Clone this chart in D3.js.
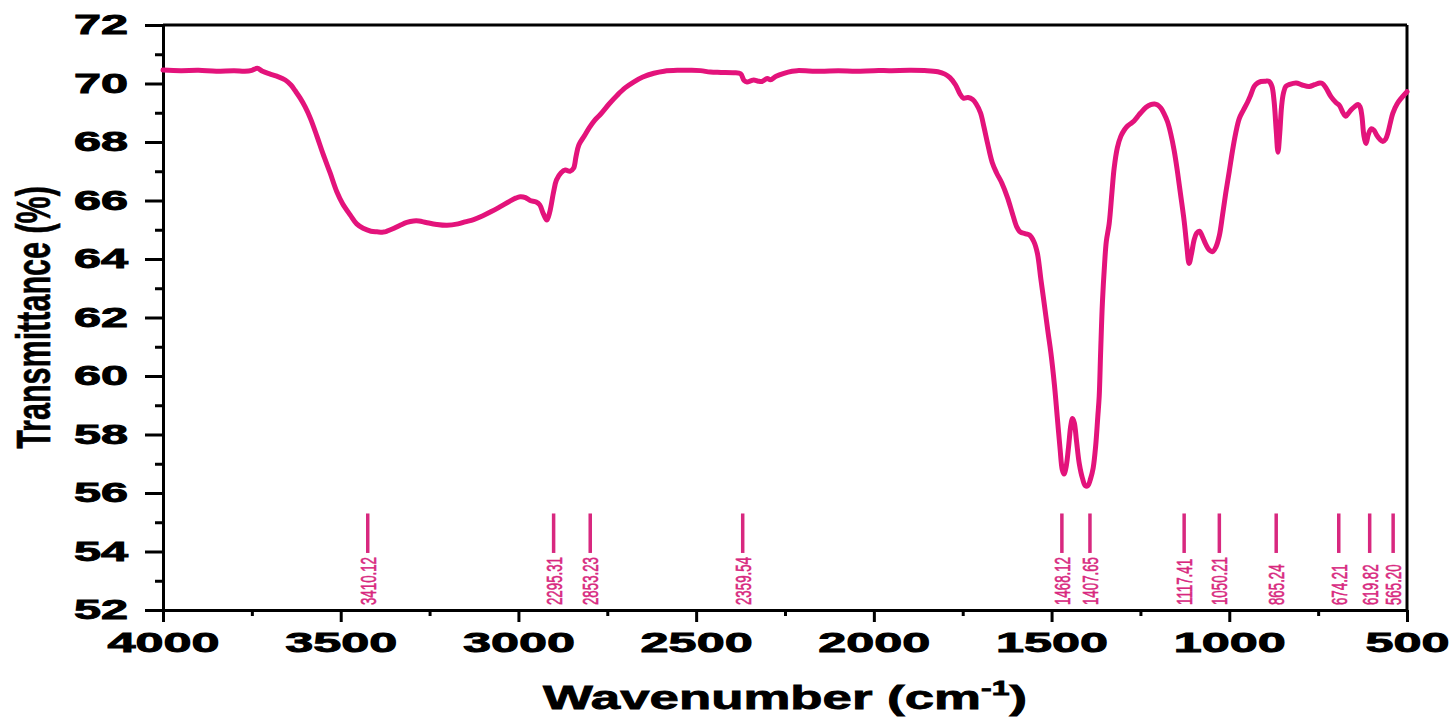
<!DOCTYPE html>
<html>
<head>
<meta charset="utf-8">
<script src="https://cdn.jsdelivr.net/npm/d3@7"></script>
<style>
  html, body { margin: 0; padding: 0; background: #ffffff; }
  svg { display: block; }
  text { font-family: "Liberation Sans", Arial, sans-serif; }
</style>
</head>
<body>
<svg id="chart" width="1453" height="717"></svg>
<script>
// ---------------- data ----------------
const wavenumber = [
  4000, 3950, 3900, 3850, 3800, 3770, 3750, 3735, 3720, 3700, 3680, 3656, 3640, 3628, 3614, 3600,
  3585, 3567, 3550, 3530, 3511, 3495, 3473, 3455, 3437, 3415, 3398, 3380, 3370, 3350, 3330, 3314,
  3295, 3280, 3260, 3230, 3201, 3170, 3150, 3126, 3100, 3075, 3051, 3025, 3008, 2995, 2980, 2967,
  2950, 2940, 2930, 2920, 2912, 2901, 2893, 2880, 2868, 2855, 2845, 2838, 2830, 2815, 2800, 2785,
  2769, 2745, 2722, 2700, 2676, 2650, 2619, 2590, 2553, 2520, 2488, 2460, 2430, 2394, 2375, 2365,
  2357, 2345, 2338, 2325, 2315, 2300, 2291, 2275, 2253, 2230, 2216, 2150, 2100, 2050, 2000, 1950,
  1900, 1850, 1820, 1800, 1786, 1770, 1758, 1748, 1735, 1722, 1712, 1700, 1690, 1680, 1667, 1655,
  1640, 1624, 1610, 1598, 1588, 1575, 1562, 1550, 1540, 1530, 1521, 1510, 1502, 1492, 1484, 1476,
  1470, 1465, 1459, 1452, 1446, 1441, 1436, 1430, 1422, 1413, 1405, 1398, 1390, 1383, 1376, 1370,
  1366, 1362, 1357, 1351, 1346, 1338, 1330, 1324, 1315, 1305, 1295, 1286, 1275, 1268, 1258, 1249,
  1235, 1221, 1210, 1202, 1192, 1183, 1174, 1165, 1155, 1146, 1137, 1127, 1120, 1113, 1106, 1099,
  1092, 1084, 1075, 1066, 1056, 1047, 1038, 1028, 1019, 1010, 1000, 991, 982, 972, 960, 949,
  940, 930, 920, 911, 898, 888, 880, 874, 868, 863, 858, 853, 848, 841, 830, 812,
  795, 775, 760, 745, 738, 728, 714, 700, 690, 680, 672, 665, 657, 648, 638, 632,
  627, 621, 615, 609, 601, 593, 586, 577, 568, 560, 554, 547, 540, 528, 516, 500
];
const transmittance = [
  70.46, 70.44, 70.45, 70.42, 70.44, 70.42, 70.45, 70.52, 70.42, 70.33, 70.25, 70.12, 69.95, 69.75, 69.50, 69.20,
  68.80, 68.20, 67.60, 66.95, 66.30, 65.90, 65.50, 65.20, 65.05, 64.95, 64.93, 64.92, 64.95, 65.05, 65.17, 65.25,
  65.30, 65.30, 65.25, 65.18, 65.15, 65.20, 65.27, 65.35, 65.48, 65.63, 65.79, 65.97, 66.08, 66.13, 66.10, 66.00,
  65.95, 65.85, 65.55, 65.33, 65.60, 66.30, 66.70, 66.95, 67.04, 67.00, 67.10, 67.50, 67.90, 68.20, 68.50, 68.75,
  68.95, 69.30, 69.60, 69.85, 70.05, 70.22, 70.35, 70.42, 70.45, 70.45, 70.44, 70.39, 70.38, 70.37, 70.33, 70.10,
  70.05, 70.10, 70.12, 70.08, 70.07, 70.17, 70.13, 70.25, 70.35, 70.42, 70.44, 70.42, 70.44, 70.42, 70.44, 70.44,
  70.45, 70.44, 70.40, 70.32, 70.20, 69.95, 69.65, 69.50, 69.52, 69.45, 69.30, 69.00, 68.50, 67.95, 67.30, 66.95,
  66.60, 66.10, 65.55, 65.10, 64.92, 64.87, 64.82, 64.60, 64.20, 63.30, 62.50, 61.50, 60.80, 59.70, 58.60, 57.50,
  56.80, 56.65, 56.90, 57.60, 58.30, 58.55, 58.40, 57.80, 57.00, 56.50, 56.25, 56.25, 56.50, 56.85, 57.60, 58.60,
  59.30, 60.80, 62.50, 63.80, 64.60, 65.20, 66.30, 67.10, 67.80, 68.20, 68.42, 68.55, 68.65, 68.72, 68.87, 69.00,
  69.18, 69.28, 69.30, 69.27, 69.15, 68.95, 68.70, 68.30, 67.70, 67.00, 66.20, 65.30, 64.50, 63.85, 64.20, 64.65,
  64.88, 64.95, 64.75, 64.50, 64.30, 64.25, 64.40, 64.80, 65.50, 66.25, 67.00, 67.70, 68.30, 68.80, 69.10, 69.35,
  69.60, 69.90, 70.02, 70.07, 70.08, 70.07, 69.90, 69.40, 68.40, 67.65, 68.30, 69.20, 69.65, 69.90, 69.97, 70.02,
  69.95, 69.90, 69.96, 70.02, 70.00, 69.85, 69.55, 69.35, 69.25, 69.00, 68.88, 68.98, 69.10, 69.20, 69.28, 69.20,
  68.90, 68.20, 67.95, 68.25, 68.45, 68.40, 68.25, 68.10, 68.02, 68.10, 68.30, 68.65, 68.98, 69.30, 69.50, 69.72
];

// peak marker positions (as drawn) and their printed labels
const markerPositions = [3424, 2901, 2798, 2369, 1471, 1392, 1127, 1028, 868, 692, 605, 539];
const markerLabels = ["3410.12", "2295.31", "2853.23", "2359.54", "1468.12", "1407.65",
                      "1117.41", "1050.21", "865.24", "674.21", "619.82", "565.20"];
const markerTop = 55.3, markerBottom = 53.95, markerLabelBase = 52.17;

// axis ticks
const xTicks = [4000, 3500, 3000, 2500, 2000, 1500, 1000, 500];
const xMinorTicks = [3750, 3250, 2750, 2250, 1750, 1250, 750];
const yTicks = [52, 54, 56, 58, 60, 62, 64, 66, 68, 70, 72];
const yMinorTicks = [53, 55, 57, 59, 61, 63, 65, 67, 69, 71];

const xTitle = "Wavenumber (cm";
const xTitleSup = "-1";
const yTitle = "Transmittance (%)";

// ---------------- layout ----------------
const plotLeft = 163, plotRight = 1407, plotTop = 25, plotBottom = 610;
const lineColor = "#e3137b";
const markColor = "#d8287f";
const sxTick = 1.8, sxTitle = 1.6;

const svg = d3.select("#chart");
const x = d3.scaleLinear().domain([4000, 500]).range([plotLeft, plotRight]);
const y = d3.scaleLinear().domain([52, 72]).range([plotBottom, plotTop]);

// frame (top & right)
svg.append("line").attr("x1", plotLeft).attr("x2", plotRight).attr("y1", plotTop).attr("y2", plotTop)
  .attr("stroke", "#000").attr("stroke-width", 3);
svg.append("line").attr("x1", plotRight).attr("x2", plotRight).attr("y1", plotTop).attr("y2", plotBottom)
  .attr("stroke", "#000").attr("stroke-width", 3);

// minor ticks
svg.append("g").attr("transform", `translate(0,${plotBottom})`)
  .call(d3.axisBottom(x).tickValues(xMinorTicks).tickSize(6).tickSizeOuter(0).tickFormat(""))
  .call(g => g.select(".domain").remove())
  .call(g => g.selectAll("line").attr("stroke-width", 3));
svg.append("g").attr("transform", `translate(${plotLeft},0)`)
  .call(d3.axisLeft(y).tickValues(yMinorTicks).tickSize(8).tickSizeOuter(0).tickFormat(""))
  .call(g => g.select(".domain").remove())
  .call(g => g.selectAll("line").attr("stroke-width", 3));

// major x axis
const gx = svg.append("g").attr("transform", `translate(0,${plotBottom})`)
  .call(d3.axisBottom(x).tickValues(xTicks).tickSize(12).tickSizeOuter(0).tickPadding(10).tickFormat(d3.format("d")));
gx.select(".domain").attr("stroke-width", 3);
gx.selectAll("line").attr("stroke-width", 3);
gx.selectAll("text")
  .attr("font-size", 28).attr("font-weight", "bold").attr("fill", "#000")
  .attr("stroke", "#000").attr("stroke-width", 0.9)
  .attr("transform", `scale(${sxTick},1)`);

// major y axis
const gy = svg.append("g").attr("transform", `translate(${plotLeft},0)`)
  .call(d3.axisLeft(y).tickValues(yTicks).tickSize(18).tickSizeOuter(0).tickPadding(17).tickFormat(d3.format("d")));
gy.select(".domain").attr("stroke-width", 3);
gy.selectAll("line").attr("stroke-width", 3);
gy.selectAll("text")
  .attr("font-size", 27).attr("font-weight", "bold").attr("fill", "#000")
  .attr("stroke", "#000").attr("stroke-width", 0.9)
  .attr("x", 0)
  .attr("transform", `translate(-35,0) scale(${sxTick},1)`);

// axis titles
const xt = svg.append("text")
  .attr("transform", `translate(${(plotLeft + plotRight) / 2},709) scale(${sxTitle},1)`)
  .attr("text-anchor", "middle").attr("font-size", 33).attr("font-weight", "bold")
  .attr("fill", "#000").attr("stroke", "#000").attr("stroke-width", 0.8);
xt.append("tspan").text(xTitle);
xt.append("tspan").attr("font-size", 20).attr("dy", -14).text(xTitleSup);
xt.append("tspan").attr("dy", 14).text(")");

svg.append("text")
  .attr("transform", `translate(50,${(plotTop + plotBottom) / 2}) scale(${sxTitle},1) rotate(-90)`)
  .attr("text-anchor", "middle").attr("font-size", 30.5).attr("font-weight", "bold")
  .attr("fill", "#000").attr("stroke", "#000").attr("stroke-width", 0.4)
  .text(yTitle);

// spectrum
const data = wavenumber.map((w, i) => ({ w, t: transmittance[i] }));
svg.append("path").datum(data)
  .attr("fill", "none").attr("stroke", lineColor).attr("stroke-width", 5)
  .attr("stroke-linejoin", "round").attr("stroke-linecap", "round")
  .attr("d", d3.line().x(d => x(d.w)).y(d => y(d.t)).curve(d3.curveCatmullRom.alpha(0.5)));

// peak markers
const markers = markerPositions.map((p, i) => ({ p, label: markerLabels[i] }));
svg.append("g").selectAll("line").data(markers).join("line")
  .attr("x1", d => x(d.p)).attr("x2", d => x(d.p))
  .attr("y1", y(markerTop)).attr("y2", y(markerBottom))
  .attr("stroke", markColor).attr("stroke-width", 3.5);
svg.append("g").selectAll("text").data(markers).join("text")
  .attr("transform", d => `translate(${x(d.p)},${y(markerLabelBase)}) scale(1.7,1) rotate(-90)`)
  .attr("text-anchor", "start").attr("dy", "0.36em")
  .attr("font-size", 13.3).attr("fill", markColor)
  .attr("stroke", markColor).attr("stroke-width", 0.35)
  .text(d => d.label);
</script>
</body>
</html>
